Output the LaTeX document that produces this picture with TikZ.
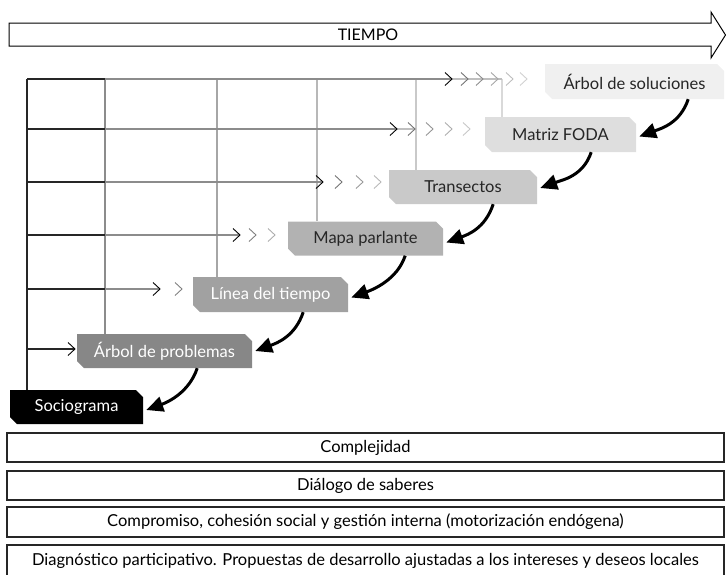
\documentclass[tikz,border=0pt]{standalone}
\usepackage{fontspec}
\setmainfont{Lato}
\usetikzlibrary{arrows.meta}
\newcommand{\mychev}[3]{\draw[#3, line width=0.9pt, line join=miter] (#1-7,#2-6.5) -- (#1,#2) -- (#1-7,#2+6.5);}
\begin{document}
\begin{tikzpicture}[x=1pt,y=-1pt,
  tool/.style n args={4}{rectangle, inner sep=0pt, minimum width=#1, minimum height=#2, text=#4,
    font=\fontsize{16.5}{18}\selectfont,
    path picture={\fill[#3] (path picture bounding box.north west)
      -- ([xshift=-7pt]path picture bounding box.north east)
      -- ([yshift=-7pt]path picture bounding box.north east)
      -- (path picture bounding box.south east)
      -- ([xshift=7pt]path picture bounding box.south west)
      -- ([yshift=7pt]path picture bounding box.south west) -- cycle;}},
  band/.style={draw=black!85, line width=1.1pt, rectangle, inner sep=0pt,
    minimum width=717pt, minimum height=#1, font=\fontsize{16.5}{18}\selectfont},
  conn/.style={line width=3pt, -{Triangle[length=17pt,width=15pt]}},
  gridA/.style={draw=black!85, line width=1.3pt},
  gridB/.style={draw=black!45, line width=1.2pt},
  gridC/.style={draw=black!25, line width=1.2pt},
]
\useasboundingbox (0,0) rectangle (726,574);

% time arrow
\draw[line width=1pt, line join=miter] (9,23) -- (711,23) -- (711,12) -- (725.5,35) -- (711,58) -- (711,46) -- (9,46) -- cycle;
\node[font=\fontsize{16}{18}\selectfont] (tiempo) at (368,35) {TIEMPO};

% tool boxes
\node[tool={133pt}{34pt}{black}{white}] (soc) at (76.5,407) {Sociograma};
\node[tool={175pt}{34pt}{black!47}{white}] (ap) at (164.5,351) {Árbol de problemas};
\node[tool={155pt}{35pt}{black!37}{white}] (lt) at (270.5,294.5) {Línea del tiempo};
\node[tool={155pt}{34pt}{black!30}{black!85}] (mp) at (365.5,238.5) {Mapa parlante};
\node[tool={148pt}{34pt}{black!21}{black!85}] (tr) at (463,187) {Transectos};
\node[tool={151pt}{35pt}{black!13}{black!85}] (mf) at (560.5,134.5) {Matriz FODA};
\node[tool={179pt}{35pt}{black!6}{black!85}] (as) at (634.5,81.5) {Árbol de soluciones};

% vertical grid lines
\draw[gridA] (27,79) -- (27,79 |- soc.north);
\draw[draw=black!45, line width=1.2pt] (105,79) -- (105,79 |- ap.north);
\draw[draw=black!35, line width=1.2pt] (217,79) -- (217,79 |- lt.north);
\draw[draw=black!28, line width=1.2pt] (317,79) -- (317,79 |- mp.north);
\draw[draw=black!21, line width=1.2pt] (416,79) -- (416,79 |- tr.north);
\draw[draw=black!15, line width=1.2pt] (502,79) -- (502,79 |- mf.north);

% horizontal rows
\draw[gridA] (27,79) -- (105,79);
\draw[gridB] (105,79) -- (452,79);
\draw[gridC] (452,79) -- (502,79);
\mychev{452}{79}{black}\mychev{468}{79}{black!55}\mychev{483}{79}{black!45}
\mychev{498}{79}{black!35}\mychev{513}{79}{black!26}\mychev{527}{79}{black!18}

\draw[gridA] (27,129) -- (105,129);
\draw[gridB] (105,129) -- (397,129);
\draw[gridC] (397,129) -- (416,129);
\mychev{397}{129}{black}\mychev{415}{129}{black!55}\mychev{433}{129}{black!42}
\mychev{452}{129}{black!32}\mychev{470}{129}{black!22}

\draw[gridA] (27,182) -- (105,182);
\draw[gridB] (105,182) -- (323,182);
\mychev{323}{182}{black}\mychev{342}{182}{black!55}\mychev{363}{182}{black!40}\mychev{381}{182}{black!28}

\draw[gridA] (27,235) -- (105,235);
\draw[gridB] (105,235) -- (240,235);
\mychev{240}{235}{black}\mychev{256}{235}{black!50}\mychev{275}{235}{black!32}

\draw[gridA] (27,289) -- (105,289);
\draw[gridB] (105,289) -- (160,289);
\mychev{160}{289}{black}\mychev{182}{289}{black!50}

\draw[gridA] (27,349) -- (75,349);
\mychev{75}{349}{black}

% curved arrows
\draw[conn] ([xshift=-36pt]as.south east) .. controls +(-8,24) and +(22,-8) .. ([xshift=3pt,yshift=-2pt]mf.east);
\draw[conn] ([xshift=-45pt]mf.south east) .. controls +(-8,24) and +(22,-8) .. ([xshift=3pt,yshift=-1pt]tr.east);
\draw[conn] ([xshift=-44pt]tr.south east) .. controls +(-8,24) and +(22,-8) .. ([xshift=3pt,yshift=-4pt]mp.east);
\draw[conn] ([xshift=-38pt]mp.south east) .. controls +(-8,24) and +(22,-8) .. ([xshift=3pt,yshift=-3pt]lt.east);
\draw[conn] ([xshift=-45pt]lt.south east) .. controls +(-8,24) and +(22,-8) .. ([xshift=3pt,yshift=0pt]ap.east);
\draw[conn] ([xshift=-55pt]ap.south east) .. controls +(-8,24) and +(22,-8) .. ([xshift=3pt,yshift=-3pt]soc.east);

% bottom bands
\node[band=29pt] (b1) at (365.5,447.5) {Complejidad};
\node[band=29pt] (b2) at (365.5,485.5) {Diálogo de saberes};
\node[band=30pt] (b3) at (365.5,522) {Compromiso, cohesión social y gestión interna (motorización endógena)};
\node[band=31pt] (b4) at (365.5,560.5) {Diagnóstico participativo. Propuestas de desarrollo ajustadas a los intereses y deseos locales};
\end{tikzpicture}
\end{document}
